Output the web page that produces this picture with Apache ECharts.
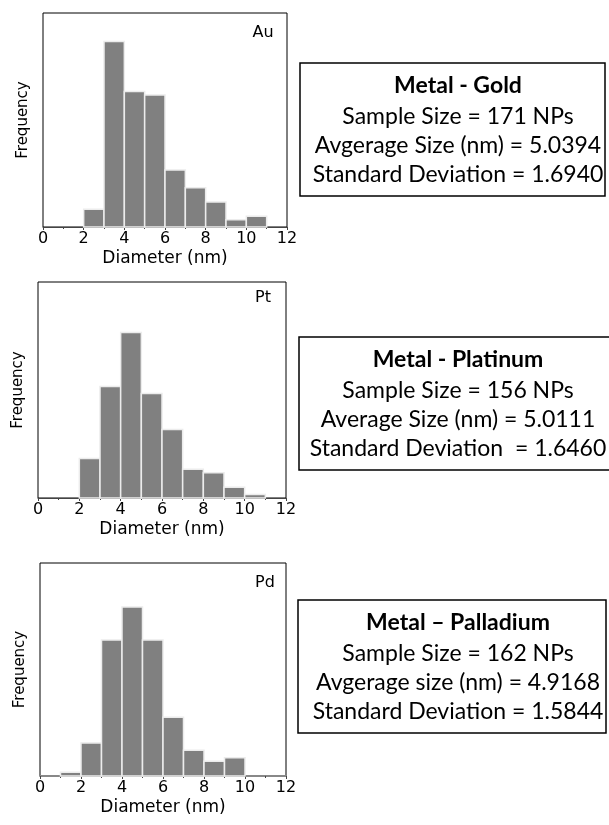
<!DOCTYPE html>
<html>
<head>
<meta charset="utf-8">
<script src="https://cdn.jsdelivr.net/npm/echarts@6/dist/echarts.min.js"></script>
<style>
  html, body { margin: 0; padding: 0; background: #fff; }
  #chart { width: 609px; height: 825px; }
</style>
</head>
<body>
<div id="chart"></div>
<script>
// each bin is 1 nm wide, this is its left edge
const binLeft = [1, 2, 3, 4, 5, 6, 7, 8, 9, 10];
const auCounts = [0, 5, 52, 38, 37, 16, 11, 7, 2, 3];
const ptCounts = [0, 11, 31, 46, 29, 19, 8, 7, 3, 1];
const pdCounts = [1, 9, 37, 46, 37, 16, 7, 4, 5, 0];
const yMax = [60, 60, 58];
const tags = ['Au', 'Pt', 'Pd'];

const boxTitles = ['Metal - Gold', 'Metal - Platinum', 'Metal \u2013 Palladium'];
const boxLines = [
  ['Sample Size = 171 NPs', 'Avgerage Size (nm) = 5.0394', 'Standard Deviation = 1.6940'],
  ['Sample Size = 156 NPs', 'Average Size (nm) = 5.0111', 'Standard Deviation  = 1.6460'],
  ['Sample Size = 162 NPs', 'Avgerage size (nm) = 4.9168', 'Standard Deviation = 1.5844']
];

const chart = echarts.init(document.getElementById('chart'));

// plot areas (px)
const grids = [
  { left: 43, top: 13, width: 244, height: 214 },
  { left: 38, top: 282, width: 248, height: 216 },
  { left: 40, top: 563, width: 246, height: 213 }
];
const boxes = [
  { x: 300, y: 63, w: 305, h: 133 },
  { x: 299, y: 337, w: 320, h: 133 },
  { x: 298, y: 600, w: 308, h: 133 }
];
const tagPos = [[263, 33], [263, 298], [265, 583]];
const lineOffsets = [23, 53.5, 83, 112];

function renderBin(params, api) {
  const a = api.coord([api.value(0), 0]);
  const b = api.coord([api.value(0) + 1, api.value(1)]);
  return {
    type: 'rect',
    shape: { x: a[0], y: b[1], width: b[0] - a[0], height: a[1] - b[1] },
    style: { fill: '#808080', stroke: '#ececec', lineWidth: 1.5 }
  };
}

const allCounts = [auCounts, ptCounts, pdCounts];
const graphic = [];

boxes.forEach((bx, i) => {
  graphic.push({
    type: 'rect',
    shape: { x: bx.x, y: bx.y, width: bx.w, height: bx.h },
    style: { fill: '#fff', stroke: '#000', lineWidth: 1.5 }
  });
  const lines = [boxTitles[i]].concat(boxLines[i]);
  lines.forEach((t, j) => {
    graphic.push({
      type: 'text',
      style: {
        text: t, x: 458, y: bx.y + lineOffsets[j],
        align: 'center', verticalAlign: 'middle',
        font: (j === 0 ? 'bold ' : '') + '23px Lato',
        fill: '#000'
      }
    });
  });
});

tags.forEach((t, i) => {
  graphic.push({
    type: 'text',
    style: {
      text: t, x: tagPos[i][0], y: tagPos[i][1],
      align: 'center', verticalAlign: 'middle',
      font: '16px "DejaVu Sans"', fill: '#000'
    }
  });
});

const option = {
  animation: false,
  grid: grids.map(g => Object.assign({ show: true, borderColor: '#000', borderWidth: 1 }, g)),
  xAxis: grids.map((g, i) => ({
    type: 'value',
    gridIndex: i,
    min: 0,
    max: 12,
    interval: 2,
    name: 'Diameter (nm)',
    nameLocation: 'middle',
    nameGap: 23,
    nameTextStyle: { fontFamily: 'DejaVu Sans', fontSize: 17, color: '#000' },
    axisLine: { lineStyle: { color: i === 2 ? '#888' : '#444', width: i === 2 ? 2 : 1 } },
    axisTick: { length: 3, lineStyle: { color: '#444' } },
    minorTick: { show: true, splitNumber: 2, length: 2, lineStyle: { color: '#444' } },
    axisLabel: { margin: 4, fontFamily: 'DejaVu Sans', fontSize: 16, color: '#000' },
    splitLine: { show: false }
  })),
  yAxis: grids.map((g, i) => ({
    type: 'value',
    gridIndex: i,
    min: 0,
    max: yMax[i],
    name: 'Frequency',
    nameLocation: 'middle',
    nameGap: 12,
    nameTextStyle: { fontFamily: 'DejaVu Sans', fontSize: 15, color: '#000' },
    axisLine: { show: false },
    axisTick: { show: false },
    axisLabel: { show: false },
    splitLine: { show: false }
  })),
  series: allCounts.map((counts, i) => ({
    type: 'custom',
    xAxisIndex: i,
    yAxisIndex: i,
    renderItem: renderBin,
    encode: { x: 0, y: 1 },
    data: binLeft.map((x, k) => [x, counts[k]]).filter(d => d[1] > 0)
  })),
  graphic: graphic
};

chart.setOption(option);
</script>
</body>
</html>
